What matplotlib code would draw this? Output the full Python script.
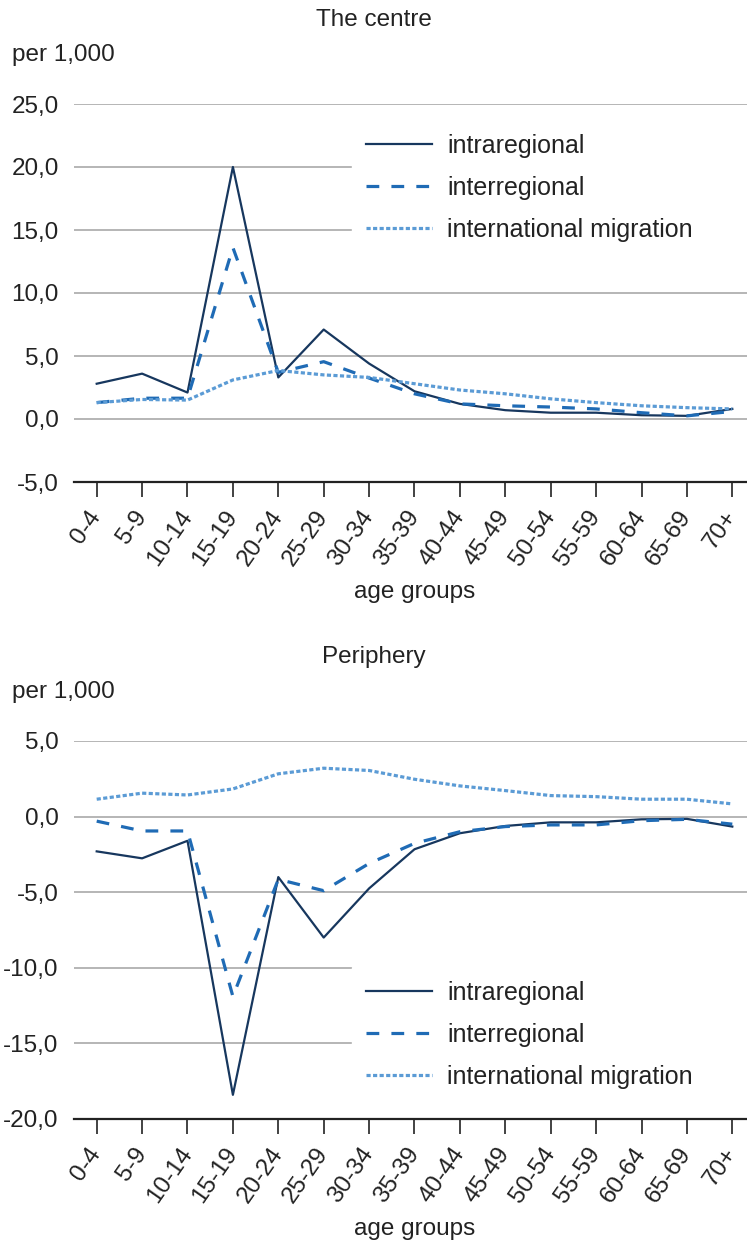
import numpy as np
import matplotlib
matplotlib.use("Agg")
import matplotlib.pyplot as plt

plt.rcParams['font.family'] = ['Liberation Sans', 'DejaVu Sans']

# age group categories
ages = ['0-4', '5-9', '10-14', '15-19', '20-24', '25-29', '30-34', '35-39',
        '40-44', '45-49', '50-54', '55-59', '60-64', '65-69', '70+']

# The centre, per 1,000
centre_intra = [2.8, 3.6, 2.1, 20.0, 3.3, 7.1, 4.4, 2.2, 1.2, 0.7, 0.5, 0.5, 0.3, 0.25, 0.8]
centre_inter = [1.3, 1.65, 1.65, 13.6, 3.7, 4.55, 3.25, 2.0, 1.2, 1.05, 0.95, 0.8, 0.5, 0.25, 0.6]
centre_intl = [1.3, 1.55, 1.5, 3.1, 3.85, 3.5, 3.3, 2.8, 2.3, 2.0, 1.6, 1.3, 1.05, 0.9, 0.8]

# Periphery, per 1,000
periph_intra = [-2.3, -2.76, -1.6, -18.4, -4.0, -8.0, -4.75, -2.16, -1.1, -0.62, -0.38, -0.38, -0.18, -0.15, -0.66]
periph_inter = [-0.3, -0.95, -0.95, -11.9, -4.15, -4.9, -3.1, -1.77, -1.0, -0.66, -0.55, -0.55, -0.27, -0.18, -0.5]
periph_intl = [1.15, 1.55, 1.43, 1.83, 2.83, 3.2, 3.05, 2.47, 2.03, 1.72, 1.39, 1.32, 1.15, 1.15, 0.84]

labels = ['intraregional', 'interregional', 'international migration']
c_intra = '#17375e'
c_inter = '#1f6bb5'
c_intl = '#5b9bd5'
txt = '#222222'
fs = 17.5

W, H = 747, 1245
fig = plt.figure(figsize=(W / 100, H / 100), dpi=100)

ax_left = 74 / W
ax_width = (755 - 74) / W


def draw_panel(top_px, bottom_px, title, intra, inter, intl, ylim, yticks, legend_y):
    ax = fig.add_axes([ax_left, 1 - bottom_px / H, ax_width, (bottom_px - top_px) / H])
    x = np.arange(len(ages))
    ax.plot(x, intra, color=c_intra, lw=1.6, label=labels[0], zorder=3)
    ax.plot(x, inter, color=c_inter, lw=2.3, dashes=(4.0, 3.8), label=labels[1], zorder=3)
    ax.plot(x, intl, color=c_intl, lw=2.3, dashes=(1.3, 0.75), label=labels[2], zorder=3)

    ax.set_xlim(-0.5, len(ages) - 0.5)
    ax.set_ylim(*ylim)
    ax.set_yticks(yticks)
    ax.set_yticklabels([f'{v:.1f}'.replace('.', ',') for v in yticks], fontsize=fs, color=txt)
    ax.tick_params(axis='y', length=0, pad=11)
    for v in yticks[1:]:
        ax.axhline(v, color='#b5b5b5', lw=1.4, zorder=1)

    ax.set_xticks(x)
    ax.set_xticklabels(ages, rotation=55, ha='right', va='center', rotation_mode='anchor',
                       fontsize=fs, color=txt)
    ax.tick_params(axis='x', length=11, width=1.2, color='#222222', pad=11)
    ax.set_xlabel('age groups', fontsize=fs, color=txt, labelpad=8)

    for s in ['top', 'right', 'left']:
        ax.spines[s].set_visible(False)
    ax.spines['bottom'].set_color('#222222')
    ax.spines['bottom'].set_linewidth(1.6)

    x0 = (352 - 74) / (755 - 74)
    leg = ax.legend(loc='upper left', bbox_to_anchor=(x0, legend_y, 1 - x0, 0), mode='expand',
                    frameon=True, fontsize=18, handlelength=2.65, handletextpad=0.62,
                    labelspacing=0.72, borderaxespad=0, borderpad=0.55)
    leg.get_frame().set_facecolor('white')
    leg.get_frame().set_edgecolor('white')
    leg.get_frame().set_alpha(1)
    leg.get_frame().set_boxstyle('square', pad=0)
    leg.set_zorder(4)
    for t in leg.get_texts():
        t.set_color(txt)

    fig.text(0.5, 1 - (top_px - 84) / H, title, ha='center', va='center', fontsize=fs, color=txt)
    fig.text(12 / W, 1 - (top_px - 49) / H, 'per 1,000', ha='left', va='center', fontsize=fs, color=txt)
    return ax


draw_panel(104, 482, 'The centre', centre_intra, centre_inter, centre_intl,
           (-5, 25), [-5, 0, 5, 10, 15, 20, 25], (482 - 120) / (482 - 104))
draw_panel(741, 1119, 'Periphery', periph_intra, periph_inter, periph_intl,
           (-20, 5), [-20, -15, -10, -5, 0, 5], (1119 - 967) / (1119 - 741))

fig.savefig('out.png', dpi=100)
